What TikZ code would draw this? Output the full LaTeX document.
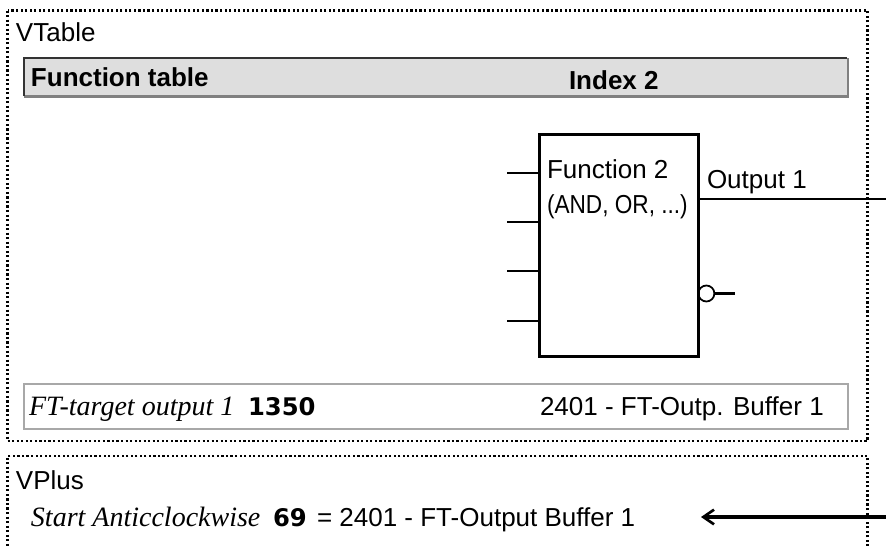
\documentclass[tikz,border=0pt]{standalone}
\usepackage{fontspec}
\setmainfont{Liberation Sans}
\newfontfamily\tmsfont{Liberation Serif}
\newfontfamily\condfont[FakeStretch=0.87]{Liberation Sans}
\newfontfamily\digfont{DejaVu Sans}
\usetikzlibrary{arrows.meta}
\tikzset{
  txt/.style={inner sep=0pt, outer sep=0pt, anchor=base west, font=\fontsize{19.5}{23}\selectfont},
  condtxt/.style={txt, font=\fontsize{19.5}{23}\selectfont\condfont},
  ittxt/.style={inner sep=0pt, outer sep=0pt, anchor=base west, font=\fontsize{21}{25}\selectfont\tmsfont\itshape},
  boldtxt/.style={txt, font=\fontsize{19.5}{23}\selectfont\bfseries},
  numtxt/.style={txt, font=\fontsize{18.2}{22}\selectfont\digfont\bfseries},
  dotbox/.style={line width=1.7pt, dash pattern=on 1.6pt off 1.8pt},
  wire/.style={line width=2pt},
  fbox/.style={draw, line width=2pt, inner sep=0pt, minimum width=159*0.75pt, minimum height=222*0.75pt},
}
\definecolor{hdrfill}{HTML}{DEDEDE}
\definecolor{hdrdark}{HTML}{333333}
\definecolor{hdrshade}{HTML}{808080}
\definecolor{rowedge}{HTML}{A8A8A8}
\begin{document}
\begin{tikzpicture}[x=0.75pt,y=-0.75pt]
\useasboundingbox (0,0) rectangle (886,546);
% outer dotted panels
\draw[dotbox] (7.5,10.5) rectangle (867.5,441);
\draw[dotbox] (867.5,560) -- (867.5,456) -- (7.5,456) -- (7.5,560);
\node[txt] (vtable) at (16,41.5) {VTable};
\node[txt] (vplus) at (16,489) {VPlus};
% header bar
\fill[hdrfill] (24,58) rectangle (848,97);
\draw[hdrshade, line width=2pt] (24,96.3) -- (848,96.3) -- (848,58);
\draw[hdrdark, line width=1.1pt] (24,96) -- (24,58) -- (847,58);
\node[boldtxt] (ftab) at (31,86) {Function table};
\node[boldtxt] (idx) at (569,89) {Index 2};
% function block
\node[fbox, anchor=north west] (fb) at (538,133) {};
\node[txt] (fname) at (547,178) {Function 2};
\node[condtxt] (fkind) at (547,213) {(AND, OR, ...)};
\node[txt] (out1) at (707,188) {Output 1};
\coordinate (in1) at (507,173);
\coordinate (in2) at (507,222);
\coordinate (in3) at (507,271);
\coordinate (in4) at (507,321);
\foreach \i in {1,...,4} \draw[wire] (in\i) -- (in\i -| fb.west);
\coordinate (outend) at (886,199);
\draw[wire] (outend -| fb.east) -- (outend);
\node[draw, circle, line width=1.3pt, minimum size=16*0.75pt, inner sep=0pt, anchor=west] (neg) at (697.5,293.5) {};
\coordinate (negend) at (735,293.5);
\draw[wire] (neg.east) -- (negend);
% target row
\draw[rowedge, line width=1.1pt, fill=white] (24,384) rectangle (848,429);
\node[ittxt] (tgt) at (29,415) {FT-target output 1};
\node[numtxt] (tgtnum) at (248,415) {1350};
\node[txt] (buf) at (540,415) {2401 - FT-Outp. Buffer 1};
% VPlus row
\node[ittxt] (start) at (31,526) {Start Anticclockwise};
\node[numtxt] (startnum) at (273,526) {69};
\node[txt] (startval) at (317,526) {= 2401 - FT-Output Buffer 1};
\coordinate (arrsrc) at (886,517);
\coordinate (arrtip) at (701,517);
\draw[line width=2.4pt, -{Straight Barb[length=8pt,width=11pt,line width=2pt]}] (arrsrc) -- (arrtip);
\end{tikzpicture}
\end{document}
